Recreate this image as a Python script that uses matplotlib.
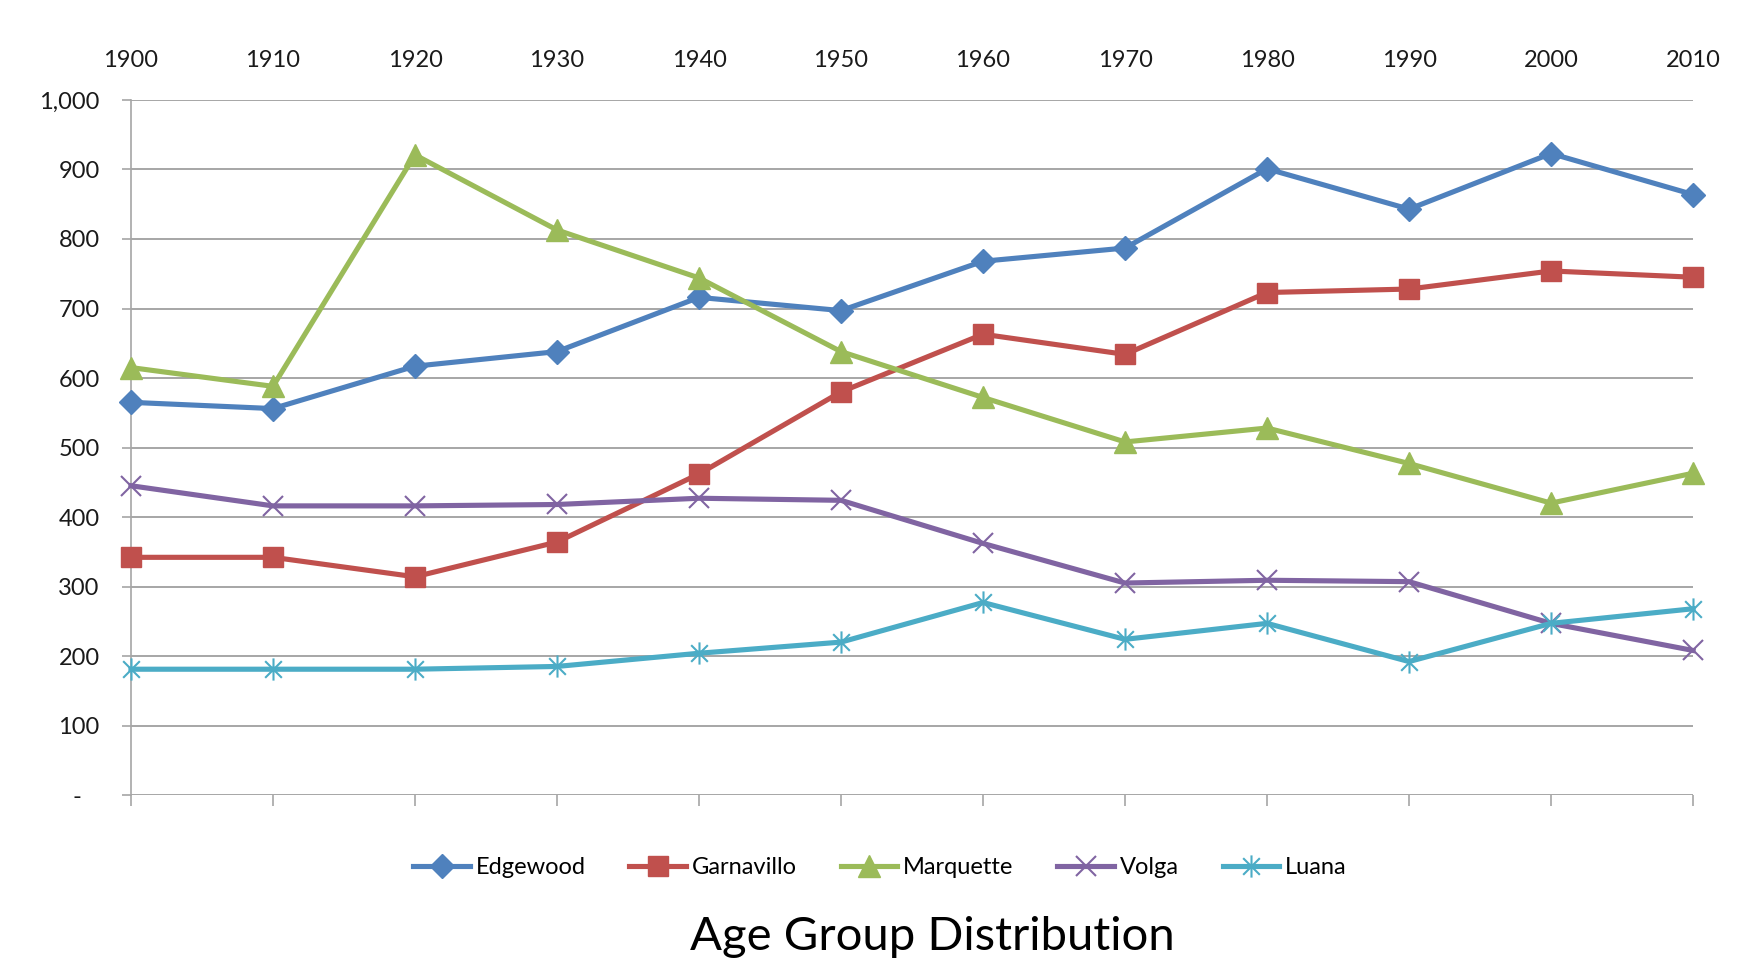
import matplotlib
matplotlib.use("Agg")
import matplotlib.pyplot as plt
from matplotlib.path import Path

plt.rcParams['font.family'] = ['Lato', 'DejaVu Sans']

years = [1900, 1910, 1920, 1930, 1940, 1950, 1960, 1970, 1980, 1990, 2000, 2010]
edgewood = [565, 556, 617, 638, 716, 697, 768, 787, 901, 843, 923, 864]
garnavillo = [342, 342, 314, 364, 462, 580, 663, 634, 723, 728, 754, 745]
marquette = [615, 588, 921, 813, 744, 638, 572, 508, 528, 477, 420, 463]
volga = [445, 416, 416, 418, 427, 424, 362, 305, 309, 307, 247, 208]
luana = [181, 181, 181, 185, 204, 220, 277, 224, 247, 192, 247, 268]

y_ticks = [0, 100, 200, 300, 400, 500, 600, 700, 800, 900, 1000]
y_labels = ['-   ', '100', '200', '300', '400', '500', '600', '700', '800', '900', '1,000']

# excel style star: vertical bar plus an X
star = Path([(0, -1), (0, 1), (-0.75, -0.75), (0.75, 0.75), (-0.75, 0.75), (0.75, -0.75)],
            [Path.MOVETO, Path.LINETO, Path.MOVETO, Path.LINETO, Path.MOVETO, Path.LINETO])

fig = plt.figure(figsize=(17.53, 9.68), dpi=100)
ax = fig.add_axes([0.0747, 0.1787, 0.8911, 0.718])

grid_col = '#a6a6a6'
lw = 3.7

ax.plot(years, edgewood, color='#4f81bd', lw=lw, marker='D', ms=12, label='Edgewood', zorder=3, clip_on=False)
ax.plot(years, garnavillo, color='#c0504d', lw=lw, marker='s', ms=14, label='Garnavillo', zorder=4, clip_on=False)
ax.plot(years, marquette, color='#9bbb59', lw=lw, marker='^', ms=16, label='Marquette', zorder=5, clip_on=False)
ax.plot(years, volga, color='#8064a2', lw=lw, marker='x', ms=15, mew=1.5, label='Volga', zorder=6, clip_on=False)
ax.plot(years, luana, color='#4bacc6', lw=lw, marker=star, ms=16, mew=1.5, label='Luana', zorder=7, clip_on=False)

ax.set_xlim(1900, 2010)
ax.set_ylim(0, 1000)
ax.set_xticks(years)
ax.set_xticklabels([str(y) for y in years])
ax.set_yticks(y_ticks)
ax.set_yticklabels(y_labels)

ax.grid(axis='y', color=grid_col, lw=1.4)
ax.set_axisbelow(True)
for s in ['top', 'right', 'bottom']:
    ax.spines[s].set_visible(False)
ax.spines['left'].set_color(grid_col)
ax.spines['left'].set_linewidth(1.2)

ax.tick_params(axis='x', bottom=True, top=False, labelbottom=False, labeltop=True,
               length=8, width=1.2, color=grid_col, pad=13, labelsize=17, labelcolor='#1a1a1a')
ax.tick_params(axis='y', length=6.5, width=1.2, color=grid_col, pad=16, labelsize=17,
               labelcolor='#1a1a1a')

fig.legend(loc='center', bbox_to_anchor=(0.502, 0.104), ncol=5, frameon=False,
           fontsize=17, handlelength=2.4, handletextpad=0.25, columnspacing=1.85)

fig.text(0.532, 0.032, 'Age Group Distribution', ha='center', va='center', fontsize=34)

fig.savefig('out.png', dpi=100)
